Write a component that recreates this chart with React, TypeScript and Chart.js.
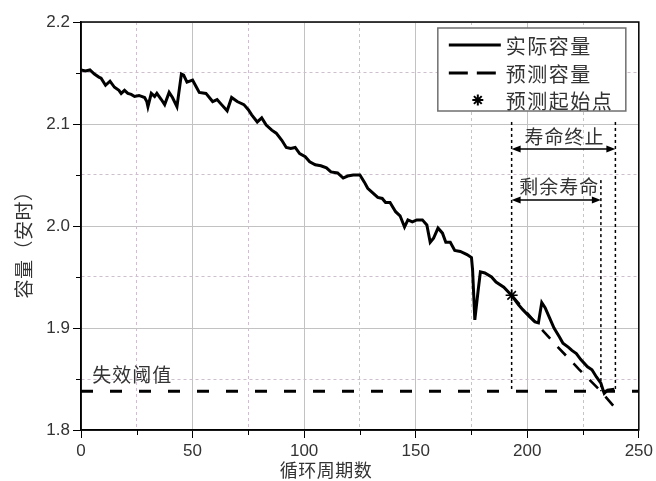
import React, { useEffect, useRef } from 'react';
import { Chart, registerables } from 'chart.js';

Chart.register(...registerables);

// ---- data ----
const actualCycles = [0, 2, 4, 6, 8, 9, 11, 13, 15, 17, 18, 19.5, 21, 22.5, 24, 26, 28.5, 29.5, 30, 31.5, 33, 34, 36, 37.5, 39.5, 41, 43, 45, 46, 47.5, 50, 51.5, 53, 56, 59, 61, 63, 65.5, 67.5, 70, 73, 75, 76.5, 79, 81, 83, 85.5, 87.5, 90, 92, 94, 96, 98, 100.5, 102.5, 105, 107.5, 110, 112, 115, 117.5, 119.5, 122, 125, 127, 128.5, 131, 133, 135, 136.5, 138.5, 141, 143, 145, 146.5, 148.5, 150.5, 153, 155, 156.5, 158, 160, 162, 163.5, 165.5, 167.5, 170, 173, 175, 175.5, 176.5, 178, 179, 181, 184, 186, 189.5, 193, 196, 198, 201, 203.5, 205, 206.5, 208, 210, 212, 214.5, 216, 218.5, 220, 222, 224, 227, 229, 231, 233, 234, 234.5, 236, 239];
const actualCapacity = [2.153, 2.152, 2.153, 2.149, 2.146, 2.145, 2.138, 2.142, 2.136, 2.133, 2.130, 2.133, 2.130, 2.129, 2.127, 2.128, 2.126, 2.122, 2.117, 2.130, 2.127, 2.130, 2.124, 2.119, 2.131, 2.126, 2.117, 2.149, 2.148, 2.141, 2.143, 2.137, 2.131, 2.130, 2.122, 2.124, 2.119, 2.113, 2.126, 2.122, 2.119, 2.114, 2.109, 2.102, 2.106, 2.099, 2.094, 2.091, 2.084, 2.077, 2.076, 2.077, 2.071, 2.068, 2.063, 2.060, 2.059, 2.057, 2.053, 2.052, 2.047, 2.049, 2.050, 2.050, 2.043, 2.037, 2.032, 2.028, 2.027, 2.023, 2.023, 2.014, 2.010, 1.999, 2.006, 2.004, 2.006, 2.006, 2.001, 1.984, 1.988, 1.998, 1.993, 1.984, 1.984, 1.976, 1.975, 1.972, 1.969, 1.957, 1.908, 1.937, 1.955, 1.954, 1.950, 1.945, 1.940, 1.932, 1.923, 1.918, 1.911, 1.906, 1.905, 1.925, 1.920, 1.910, 1.900, 1.891, 1.885, 1.881, 1.878, 1.875, 1.869, 1.862, 1.859, 1.852, 1.846, 1.839, 1.836, 1.839, 1.840];

const predictedCycles = [193, 203, 213, 223, 233, 240];
const predictedCapacity = [1.932, 1.907, 1.883, 1.860, 1.838, 1.820];

const startCycles = [193];
const startCapacity = [1.932];

const thresholdCycles = [0, 250];
const thresholdCapacity = [1.838, 1.838];

const seriesLabels = ['实际容量', '预测容量', '预测起始点'];
const thresholdLabel = '失效阈值';
const xTitle = '循环周期数';
const yTitle = '容量（安时）';

const xMin = 0, xMax = 250, xStep = 25, xMajor = 50;
const yMin = 1.8, yMax = 2.2, yStep = 0.05;

// annotation values (data units)
const startLineCycle = 193;
const eolCycle = 239.5;
const rulEndCycle = 233;
const eolLabel = '寿命终止';
const rulLabel = '剩余寿命';
const eolArrowCap = 2.0755;
const rulArrowCap = 2.0255;
const eolLineTopCap = 2.102;
const rulLineTopCap = 2.045;
const thresholdLabelCycle = 5;
const thresholdLabelCap = 1.854;

const CJK = '"Noto Sans CJK SC", "Noto Sans", sans-serif';
const TXT = '#333333';

const isMajorY = (v: number) => Math.abs(Math.round(v * 10) - v * 10) < 1e-6;
const isMajorX = (v: number) => Math.abs(v % xMajor) < 1e-6;

function arrowH(ctx: CanvasRenderingContext2D, x1: number, x2: number, y: number) {
  ctx.save();
  ctx.strokeStyle = '#000';
  ctx.fillStyle = '#000';
  ctx.lineWidth = 1.5;
  ctx.setLineDash([]);
  ctx.beginPath();
  ctx.moveTo(x1 + 4, y);
  ctx.lineTo(x2 - 4, y);
  ctx.stroke();
  const L = 9, H = 3.5;
  ctx.beginPath();
  ctx.moveTo(x1, y); ctx.lineTo(x1 + L, y - H); ctx.lineTo(x1 + L, y + H); ctx.closePath(); ctx.fill();
  ctx.beginPath();
  ctx.moveTo(x2, y); ctx.lineTo(x2 - L, y - H); ctx.lineTo(x2 - L, y + H); ctx.closePath(); ctx.fill();
  ctx.restore();
}

function vDotted(ctx: CanvasRenderingContext2D, x: number, y1: number, y2: number) {
  ctx.save();
  ctx.strokeStyle = '#000';
  ctx.lineWidth = 1.5;
  ctx.setLineDash([3, 3]);
  ctx.beginPath();
  ctx.moveTo(x, y1);
  ctx.lineTo(x, y2);
  ctx.stroke();
  ctx.restore();
}

const decorPlugin = {
  id: 'decor',
  afterDatasetsDraw(chart: any) {
    const { ctx, chartArea: ca, scales } = chart;
    const xs = scales.x, ys = scales.y;
    // minor ticks
    ctx.save();
    ctx.strokeStyle = '#000';
    ctx.lineWidth = 1;
    xs.ticks.forEach((t: any) => {
      if (!isMajorX(t.value)) {
        const px = Math.round(xs.getPixelForValue(t.value)) + 0.5;
        ctx.beginPath(); ctx.moveTo(px, ca.bottom); ctx.lineTo(px, ca.bottom + 5); ctx.stroke();
      }
    });
    ys.ticks.forEach((t: any) => {
      if (!isMajorY(t.value)) {
        const py = Math.round(ys.getPixelForValue(t.value)) + 0.5;
        ctx.beginPath(); ctx.moveTo(ca.left - 5, py); ctx.lineTo(ca.left, py); ctx.stroke();
      }
    });
    // frame
    ctx.lineWidth = 1.5;
    ctx.strokeRect(ca.left, ca.top, ca.right - ca.left, ca.bottom - ca.top);
    ctx.restore();

    // annotations
    const xStart = xs.getPixelForValue(startLineCycle);
    const xEol = xs.getPixelForValue(eolCycle);
    const xRul = xs.getPixelForValue(rulEndCycle);
    const yBottom = ys.getPixelForValue(thresholdCapacity[0]);
    vDotted(ctx, xStart, ys.getPixelForValue(eolLineTopCap), yBottom);
    vDotted(ctx, xEol, ys.getPixelForValue(eolLineTopCap), yBottom);
    vDotted(ctx, xRul, ys.getPixelForValue(rulLineTopCap), yBottom);
    const yEol = ys.getPixelForValue(eolArrowCap);
    const yRul = ys.getPixelForValue(rulArrowCap);
    arrowH(ctx, xStart, xEol, yEol);
    arrowH(ctx, xStart, xRul, yRul);

    ctx.save();
    ctx.fillStyle = TXT;
    ctx.font = `19px ${CJK}`;
    (ctx as any).letterSpacing = '1px';
    ctx.textAlign = 'center';
    ctx.textBaseline = 'middle';
    ctx.fillText(eolLabel, (xStart + xEol) / 2 + 1, yEol - 12);
    ctx.fillText(rulLabel, (xStart + xRul) / 2 + 3, yRul - 13);
    ctx.textAlign = 'left';
    ctx.fillText(thresholdLabel, xs.getPixelForValue(thresholdLabelCycle), ys.getPixelForValue(thresholdLabelCap));
    ctx.restore();
  },
  afterDraw(chart: any) {
    const { ctx, chartArea: ca } = chart;
    // axis titles
    ctx.save();
    ctx.fillStyle = TXT;
    ctx.textAlign = 'center';
    ctx.textBaseline = 'middle';
    ctx.font = `18px ${CJK}`;
    (ctx as any).letterSpacing = '0.5px';
    ctx.fillText(xTitle, ca.left + 245, ca.bottom + 40);
    ctx.translate(24, (ca.top + ca.bottom) / 2 + 14);
    ctx.rotate(-Math.PI / 2);
    ctx.font = `19px ${CJK}`;
    ctx.fillText(yTitle, 0, 0);
    ctx.restore();

    // legend
    const x0 = ca.right - 201, y0 = ca.top + 6, w = 188, h = 83;
    ctx.save();
    ctx.fillStyle = '#fff';
    ctx.fillRect(x0, y0, w, h);
    ctx.strokeStyle = '#6f6f6f';
    ctx.lineWidth = 1.5;
    ctx.strokeRect(x0, y0, w, h);
    const rows = [y0 + 17, y0 + 45, y0 + 72];
    ctx.strokeStyle = '#000';
    ctx.lineWidth = 3;
    ctx.beginPath(); ctx.moveTo(x0 + 11, rows[0]); ctx.lineTo(x0 + 63, rows[0]); ctx.stroke();
    ctx.setLineDash([19, 9]);
    ctx.beginPath(); ctx.moveTo(x0 + 11, rows[1]); ctx.lineTo(x0 + 63, rows[1]); ctx.stroke();
    ctx.setLineDash([]);
    // star
    ctx.lineWidth = 2;
    const sx = x0 + 40, sy = rows[2], r = 5.5;
    ctx.beginPath();
    for (let i = 0; i < 4; i++) {
      const a = (i * Math.PI) / 4;
      ctx.moveTo(sx + r * Math.cos(a), sy + r * Math.sin(a));
      ctx.lineTo(sx - r * Math.cos(a), sy - r * Math.sin(a));
    }
    ctx.stroke();
    ctx.fillStyle = TXT;
    ctx.font = `20px ${CJK}`;
    (ctx as any).letterSpacing = '1.5px';
    ctx.textAlign = 'left';
    ctx.textBaseline = 'middle';
    seriesLabels.forEach((lab, i) => ctx.fillText(lab, x0 + 68, rows[i] + 1));
    ctx.restore();
  },
};

export default function App() {
  const ref = useRef<HTMLCanvasElement | null>(null);
  useEffect(() => {
    document.body.style.margin = '0';
    const canvas = ref.current;
    if (!canvas) return;
    const toXY = (xs: number[], ys: number[]) => xs.map((x, i) => ({ x, y: ys[i] }));
    const chart = new Chart(canvas, {
      type: 'line',
      data: {
        datasets: [
          {
            label: seriesLabels[0],
            data: toXY(actualCycles, actualCapacity),
            borderColor: '#000',
            borderWidth: 3,
            pointRadius: 0,
            tension: 0,
          },
          {
            label: seriesLabels[2],
            data: toXY(startCycles, startCapacity),
            showLine: false,
            pointStyle: 'star',
            pointRadius: 6,
            borderColor: '#000',
            borderWidth: 1.5,
          },
          {
            label: seriesLabels[1],
            data: toXY(predictedCycles, predictedCapacity),
            borderColor: '#000',
            borderWidth: 2.6,
            borderDash: [12, 11],
            pointRadius: 0,
          },
          {
            label: thresholdLabel,
            data: toXY(thresholdCycles, thresholdCapacity),
            borderColor: '#000',
            borderWidth: 3,
            borderDash: [12, 17],
            pointRadius: 0,
          },
        ],
      },
      options: {
        animation: false,
        responsive: false,
        layout: { padding: { top: 22, right: 13, left: 0, bottom: 0 } },
        plugins: { legend: { display: false }, tooltip: { enabled: false }, title: { display: false } },
        scales: {
          x: {
            type: 'linear',
            min: xMin,
            max: xMax,
            afterFit: (s: any) => { s.height = 51; },
            ticks: {
              stepSize: xStep,
              autoSkip: false,
              maxRotation: 0,
              padding: 3,
              color: TXT,
              font: { family: '"Liberation Sans", Arial, sans-serif', size: 17 },
              callback: (v: any) => (isMajorX(Number(v)) ? String(v) : ''),
            },
            grid: {
              color: (c: any) => (c.tick && isMajorX(c.tick.value) ? '#c2c2c2' : '#cdbfcd'),
              lineWidth: 1,
              tickLength: 8,
              tickColor: (c: any) => (c.tick && isMajorX(c.tick.value) ? '#000' : 'rgba(0,0,0,0)'),
            },
            border: {
              display: true,
              color: '#000',
              width: 1.5,
              dash: (c: any) => (c.tick && !isMajorX(c.tick.value) ? [3, 3] : []),
            },
          },
          y: {
            type: 'linear',
            min: yMin,
            max: yMax,
            afterFit: (s: any) => { s.width = 81; },
            ticks: {
              stepSize: yStep,
              autoSkip: false,
              padding: 3,
              color: TXT,
              font: { family: '"Liberation Sans", Arial, sans-serif', size: 17 },
              callback: (v: any) => (isMajorY(Number(v)) ? Number(v).toFixed(1) : ''),
            },
            grid: {
              color: (c: any) => (c.tick && isMajorY(c.tick.value) ? '#c2c2c2' : '#cdbfcd'),
              lineWidth: 1,
              tickLength: 8,
              tickColor: (c: any) => (c.tick && isMajorY(c.tick.value) ? '#000' : 'rgba(0,0,0,0)'),
            },
            border: {
              display: true,
              color: '#000',
              width: 1.5,
              dash: (c: any) => (c.tick && !isMajorY(c.tick.value) ? [3, 3] : []),
            },
          },
        },
      },
      plugins: [decorPlugin],
    } as any);
    return () => chart.destroy();
  }, []);
  return <canvas ref={ref} width={656} height={481} style={{ display: 'block' }} />;
}
